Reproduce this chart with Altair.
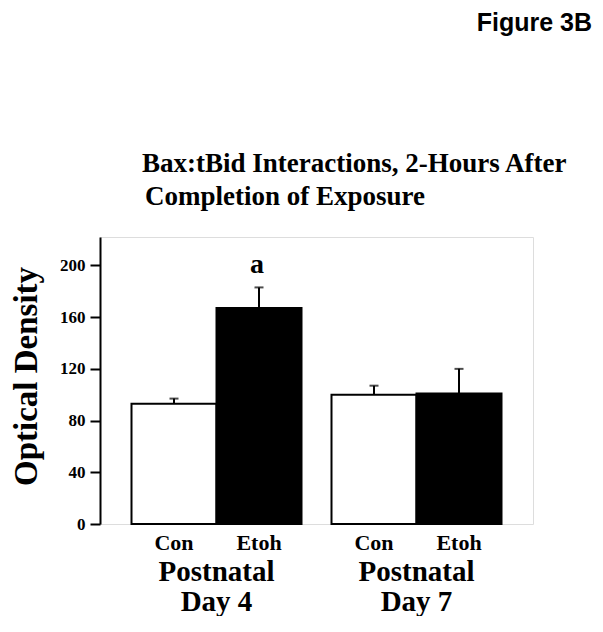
import altair as alt
import pandas as pd

days = ["Day 4", "Day 4", "Day 7", "Day 7"]
treatments = ["Con", "Etoh", "Con", "Etoh"]
means = [93, 167, 100, 101]
errs = [4, 16, 7, 19]
sig = ["", "a", "", ""]
y_ticks = [0, 20, 40, 60, 80, 100, 120, 140, 160, 180, 200]
title_line1 = "Bax:tBid Interactions, 2-Hours After"
title_line2 = "Completion of Exposure"
fig_label = "Figure 3B"

df = pd.DataFrame({
    "day": days,
    "treatment": treatments,
    "mean": means,
    "upper": [m + e for m, e in zip(means, errs)],
    "sig": sig,
})

SERIF = "Liberation Serif"
W, H = 433, 287

x_enc = alt.X(
    "day:N",
    sort=["Day 4", "Day 7"],
    scale=alt.Scale(paddingInner=0.15, paddingOuter=0.1575),
    axis=alt.Axis(
        title=None, ticks=False, domain=False,
        labelExpr="['Postnatal', datum.label]",
        labelAngle=0, labelFont=SERIF, labelFontWeight="bold",
        labelFontSize=29, labelLineHeight=30, labelPadding=33,
        labelColor="black", labelBaseline="top",
    ),
)
xo_enc = alt.XOffset("treatment:N", sort=["Con", "Etoh"],
                     scale=alt.Scale(paddingInner=0, paddingOuter=0))

y_scale = alt.Scale(domain=[0, 222], nice=False)

base = alt.Chart(df).encode(x=x_enc, xOffset=xo_enc)

bars = base.mark_bar(stroke="black", strokeWidth=2).encode(
    y=alt.Y(
        "mean:Q", scale=y_scale,
        axis=alt.Axis(
            title="Optical Density", values=y_ticks,
            labelExpr="datum.value % 40 == 0 ? datum.label : ''",
            tickSize=10, tickWidth=2, tickColor="black",
            domainColor="black", domainWidth=2, grid=False,
            labelFont=SERIF, labelFontWeight="bold", labelFontSize=17,
            labelColor="black", labelPadding=5,
            titleFont=SERIF, titleFontWeight="bold", titleFontSize=33,
            titleColor="black", titleX=-57, titleY=139,
        ),
    ),
    fill=alt.Fill("treatment:N", scale=alt.Scale(domain=["Con", "Etoh"], range=["white", "black"]), legend=None),
)

err_rule = base.mark_rule(color="black", strokeWidth=2).encode(
    y=alt.Y("mean:Q", scale=y_scale), y2="upper:Q"
)
err_cap = base.mark_tick(color="black", thickness=2, size=9).encode(
    y=alt.Y("upper:Q", scale=y_scale)
)
sig_text = base.mark_text(
    baseline="bottom", dy=-8, dx=-2, font=SERIF, fontWeight="bold", fontSize=28, color="black"
).encode(y=alt.Y("upper:Q", scale=y_scale), text="sig:N")

treat_text = base.mark_text(
    baseline="alphabetic", font=SERIF, fontWeight="bold", fontSize=22, color="black"
).encode(y=alt.value(313), text="treatment:N")

title_df = pd.DataFrame({"t": [title_line1]})
title2_df = pd.DataFrame({"t": [title_line2]})
title1 = alt.Chart(title_df).mark_text(
    align="left", baseline="alphabetic", font=SERIF, fontWeight="bold", fontSize=27, color="black"
).encode(x=alt.value(42), y=alt.value(-65), text="t:N")
title2 = alt.Chart(title2_df).mark_text(
    align="left", baseline="alphabetic", font=SERIF, fontWeight="bold", fontSize=27, color="black"
).encode(x=alt.value(45), y=alt.value(-32), text="t:N")

fig_text = alt.Chart(pd.DataFrame({"t": [fig_label]})).mark_text(
    align="right", baseline="alphabetic", font="Liberation Sans", fontWeight="bold",
    fontSize=25, color="black"
).encode(x=alt.value(492), y=alt.value(-206), text="t:N")

chart = alt.layer(bars, err_rule, err_cap, sig_text, treat_text, title1, title2, fig_text).properties(
    width=W, height=H,
    autosize=alt.AutoSizeParams(type="none"),
    padding={"left": 92, "top": 229, "right": 62, "bottom": 92},
).configure_view(stroke="black", strokeWidth=2).configure(background="white")

chart.save("out.html", embed_options={"renderer": "svg", "actions": False})
